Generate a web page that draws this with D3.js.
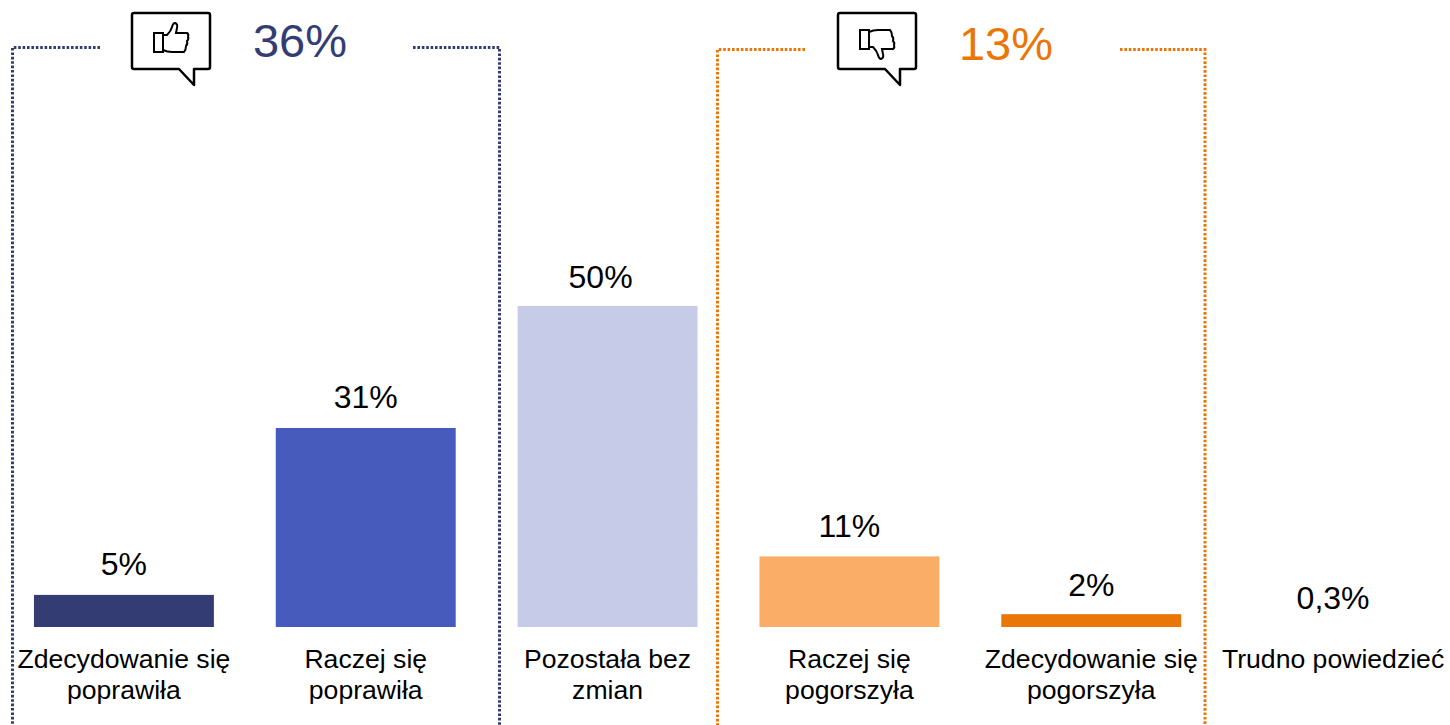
<!DOCTYPE html>
<html>
<head>
<meta charset="utf-8">
<script src="https://cdnjs.cloudflare.com/ajax/libs/d3/7.8.5/d3.min.js"></script>
<style>
  html, body { margin: 0; padding: 0; background: #fff; }
  svg { display: block; }
  text { font-family: "Liberation Sans", Arial, sans-serif; }
</style>
</head>
<body>
<div id="chart"></div>
<script>
// data
var categories = [
  ["Zdecydowanie się", "poprawiła"],
  ["Raczej się", "poprawiła"],
  ["Pozostała bez", "zmian"],
  ["Raczej się", "pogorszyła"],
  ["Zdecydowanie się", "pogorszyła"],
  ["Trudno powiedzieć"]
];
var values = [5, 31, 50, 11, 2, 0.3];
var valueLabels = ["5%", "31%", "50%", "11%", "2%", "0,3%"];
var barColors = ["#333d73", "#475bbd", "#c6cbe8", "#f9ad66", "#ea7608", "#ffffff"];
var groupLabels = ["36%", "13%"];
var groupColors = ["#333d73", "#ea7608"];

var width = 1450, height = 725;
var baseline = 627;

var svg = d3.select("#chart").append("svg")
  .attr("width", width)
  .attr("height", height);

// set the ranges
var x = d3.scaleBand()
  .domain(d3.range(values.length))
  .range([3, 1454])
  .paddingInner(0.256)
  .paddingOuter(0.128);
var y = d3.scaleLinear().domain([0, 50]).range([baseline, 306]);

// bars
svg.append("g").selectAll("rect")
  .data(values)
  .enter().append("rect")
  .attr("x", function(d, i) { return x(i); })
  .attr("y", function(d) { return y(d); })
  .attr("width", x.bandwidth())
  .attr("height", function(d) { return baseline - y(d); })
  .attr("fill", function(d, i) { return barColors[i]; });

// value labels, some were moved by hand in the original
function labelDx(i) { return i == 2 ? -7 : 0; }
function labelDy(i) {
  if (i == 0 || i == 1) return -2;
  if (i == 3) return -1;
  if (i == 5) return 2;
  return 0;
}

svg.append("g").selectAll("text")
  .data(values)
  .enter().append("text")
  .attr("x", function(d, i) { return x(i) + x.bandwidth() / 2 + labelDx(i); })
  .attr("y", function(d, i) { return y(d) - 18 + labelDy(i); })
  .attr("text-anchor", "middle")
  .attr("font-size", 32)
  .attr("fill", "#000")
  .text(function(d, i) { return valueLabels[i]; });

// category labels
var cats = svg.append("g").selectAll("text")
  .data(categories)
  .enter().append("text")
  .attr("text-anchor", "middle")
  .attr("font-size", 26.6)
  .attr("fill", "#000");
cats.selectAll("tspan")
  .data(function(d, i) { return d.map(function(t) { return { text: t, i: i }; }); })
  .enter().append("tspan")
  .attr("x", function(d) { return x(d.i) + x.bandwidth() / 2; })
  .attr("y", function(d, j) { return 668 + j * 31; })
  .text(function(d) { return d.text; });

// dotted brackets round the groups
var brackets = [
  { color: groupColors[0], left: 12.5, right: 499.5, top: 47.5, gapL: 100, gapR: 413 },
  { color: groupColors[1], left: 717.5, right: 1205, top: 49.5, gapL: 805, gapR: 1120 }
];
brackets.forEach(function(b) {
  var path = d3.path();
  path.moveTo(b.gapL, b.top);
  path.lineTo(b.left, b.top);
  path.lineTo(b.left, height);
  path.moveTo(b.gapR, b.top);
  path.lineTo(b.right, b.top);
  path.lineTo(b.right, height);
  svg.append("path")
    .attr("d", path.toString())
    .attr("fill", "none")
    .attr("stroke", b.color)
    .attr("stroke-width", 3)
    .attr("stroke-dasharray", "2.6 1.8");
});

// speech bubbles with the thumbs
var handPath = "M163 35 L167 35 Q171 31 172 27 Q173 23 175 23 Q178 24 177 28 L176 33 L187 33 Q189 34 188 37 Q189 39 187 41 Q188 44 186 46 Q186 50 184 52 L172 52 Q167 52 163 50";
var cuffPath = "M154 33 H163 V52 H154 Z";

function bubble(dx) {
  var g = svg.append("g").attr("transform", "translate(" + dx + ",0)");
  g.append("path")
    .attr("d", "M134 13 H208 Q210 13 210 15 V67 Q210 69 208 69 H194 V85 L179 69 H134 Q132 69 132 67 V15 Q132 13 134 13 Z")
    .attr("fill", "#fff")
    .attr("stroke", "#000")
    .attr("stroke-width", 2.5)
    .attr("stroke-linejoin", "round");
  return g;
}

function thumb(g, transform) {
  var t = g.append("g")
    .attr("transform", transform)
    .attr("fill", "none")
    .attr("stroke", "#000")
    .attr("stroke-width", 2);
  t.append("path").attr("d", cuffPath);
  t.append("path").attr("d", handPath);
}

thumb(bubble(0), "");
thumb(bubble(706), "translate(0,82) scale(1,-1)");

// group totals
svg.append("text")
  .attr("x", 300).attr("y", 57)
  .attr("text-anchor", "middle")
  .attr("font-size", 47)
  .attr("fill", groupColors[0])
  .text(groupLabels[0]);
svg.append("text")
  .attr("x", 1006).attr("y", 60)
  .attr("text-anchor", "middle")
  .attr("font-size", 47)
  .attr("fill", groupColors[1])
  .text(groupLabels[1]);
</script>
</body>
</html>
